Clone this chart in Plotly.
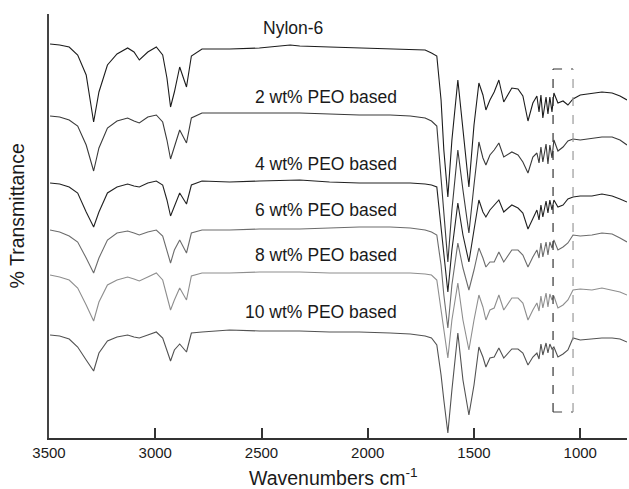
import plotly.graph_objects as go

# Wavenumber grid (cm^-1) of the key points
wavenumber = [3495, 3450, 3405, 3365, 3325, 3290, 3265, 3225, 3180, 3130,
              3100, 3075, 3035, 2995, 2965, 2945, 2928, 2910, 2885, 2853,
              2830, 2780, 2650, 2510, 2365, 2320, 2180, 2040, 1895, 1800,
              1730, 1700, 1675, 1655, 1642, 1623, 1604, 1576, 1552, 1524,
              1500, 1477, 1458, 1444, 1425, 1405, 1383, 1360, 1322, 1293,
              1270, 1246, 1223, 1204, 1194, 1185, 1176, 1161, 1152, 1143,
              1133, 1124, 1105, 1081, 1058, 1034, 1000, 945, 898, 850,
              813, 780]

# Transmittance (arbitrary units, spectra offset vertically)
nylon6 = [396, 395, 393, 385, 365, 318, 348, 375, 386, 392, 388, 380, 388, 393, 385, 362, 333, 348, 373, 353,
          384, 391, 391, 392, 395, 394, 393, 392, 391, 390, 390, 387, 384, 340, 290, 243, 300, 360, 310, 253,
          315, 357, 345, 330, 340, 348, 360, 338, 352, 351, 344, 319, 337, 344, 328, 345, 322, 343, 326, 343,
          328, 347, 337, 339, 335, 341, 345, 347, 348, 347, 344, 340]
peo2 = [324, 323, 320, 314, 295, 269, 292, 312, 319, 322, 319, 317, 323, 325, 318, 300, 281, 293, 310, 297,
        322, 327, 327, 327, 327, 327, 326, 325, 325, 324, 322, 319, 314, 265, 230, 178, 230, 290, 250, 207,
        255, 298, 282, 275, 285, 290, 297, 283, 288, 285, 278, 267, 283, 287, 277, 293, 278, 296, 276, 295,
        282, 300, 289, 293, 299, 301, 300, 302, 303, 303, 300, 295]
peo4 = [257, 256, 253, 247, 228, 213, 228, 247, 253, 256, 254, 253, 257, 259, 255, 240, 224, 233, 247, 236,
        255, 259, 258, 259, 260, 260, 258, 257, 257, 257, 256, 255, 253, 215, 185, 148, 190, 237, 205, 178,
        210, 240, 228, 223, 230, 235, 240, 228, 235, 232, 227, 211, 222, 230, 220, 235, 223, 239, 227, 240,
        230, 240, 233, 235, 241, 243, 244, 244, 246, 244, 241, 238]
peo6 = [210, 208, 204, 198, 182, 167, 182, 200, 207, 209, 207, 205, 208, 210, 204, 190, 177, 190, 200, 187,
        207, 210, 210, 211, 211, 211, 212, 213, 213, 212, 210, 208, 205, 175, 145, 112, 155, 197, 172, 150,
        170, 192, 182, 173, 178, 178, 188, 178, 190, 190, 185, 173, 183, 190, 182, 197, 183, 198, 185, 198,
        192, 200, 190, 193, 197, 205, 204, 205, 207, 206, 202, 198]
peo8 = [165, 163, 160, 152, 135, 119, 138, 155, 160, 163, 161, 159, 163, 167, 160, 145, 130, 140, 152, 140,
        164, 167, 167, 168, 168, 168, 167, 167, 167, 167, 166, 165, 160, 130, 110, 82, 120, 157, 120, 90,
        120, 145, 133, 120, 130, 132, 145, 130, 142, 142, 137, 120, 130, 137, 129, 144, 132, 147, 133, 146,
        140, 144, 132, 135, 140, 150, 151, 150, 152, 150, 148, 145]
peo10 = [105, 104, 101, 93, 80, 69, 87, 99, 103, 105, 103, 102, 105, 108, 102, 90, 79, 90, 96, 88,
         107, 108, 110, 109, 109, 109, 108, 108, 107, 106, 104, 102, 95, 65, 40, 7, 50, 107, 60, 25,
         55, 93, 83, 73, 82, 83, 92, 82, 91, 91, 87, 75, 83, 87, 81, 96, 85, 97, 87, 96,
         91, 93, 83, 86, 90, 102, 100, 101, 102, 102, 101, 98]

series = [nylon6, peo2, peo4, peo6, peo8, peo10]
series_names = ["Nylon-6", "2 wt% PEO based", "4 wt% PEO based",
                "6 wt% PEO based", "8 wt% PEO based", "10 wt% PEO based"]
series_colors = ["#1c1c1c", "#3a3a3a", "#222222", "#6c6c6c", "#8e8e8e", "#525252"]

# Label anchor positions (data units)
label_x = [2353, 1854, 1854, 1854, 1854, 1854]
label_y = [412, 343, 276, 230, 185, 128]
label_anchor = ["center", "right", "right", "right", "right", "right"]

# Highlighted band (dashed box)
band_x = [1128, 1034]
band_y = [28, 371]

x_ticks = [3500, 3000, 2500, 2000, 1500, 1000]
x_range = [3500, 780]
y_range = [2, 426]

FONT = "Liberation Sans, Arial, Helvetica, sans-serif"

fig = go.Figure()
for vals, name, col in zip(series, series_names, series_colors):
    fig.add_trace(go.Scatter(x=wavenumber, y=vals, mode="lines", name=name,
                             line=dict(color=col, width=1.1), showlegend=False,
                             hoverinfo="skip"))

for txt, lx, ly, anc in zip(series_names, label_x, label_y, label_anchor):
    fig.add_annotation(x=lx, y=ly, xref="x", yref="y", text=txt, showarrow=False,
                       xanchor=anc, yanchor="middle",
                       font=dict(family=FONT, size=17.5, color="#1a1a1a"))

# dashed highlight box
fig.add_shape(type="line", x0=band_x[0], x1=band_x[1], y0=band_y[1], y1=band_y[1],
              xref="x", yref="y", line=dict(color="#333333", width=1.2, dash="dash"))
fig.add_shape(type="line", x0=band_x[0], x1=band_x[1], y0=band_y[0], y1=band_y[0],
              xref="x", yref="y", line=dict(color="#444444", width=1.2, dash="dash"))
fig.add_shape(type="line", x0=band_x[0], x1=band_x[0], y0=band_y[0], y1=band_y[1],
              xref="x", yref="y", line=dict(color="#333333", width=1.2, dash="dash"))
fig.add_shape(type="line", x0=band_x[1], x1=band_x[1], y0=band_y[0], y1=band_y[1],
              xref="x", yref="y", line=dict(color="#9a9a9a", width=1.2, dash="dash"))

# axis titles
fig.add_annotation(x=0.493, y=-0.093, xref="paper", yref="paper",
                   text="Wavenumbers cm<sup>-1</sup>", showarrow=False,
                   xanchor="center", yanchor="middle",
                   font=dict(family=FONT, size=19.5, color="#1a1a1a"))
fig.add_annotation(x=-0.056, y=0.524, xref="paper", yref="paper",
                   text="% Transmittance", showarrow=False, textangle=-90,
                   xanchor="center", yanchor="middle",
                   font=dict(family=FONT, size=19.5, color="#1a1a1a"))

fig.update_layout(
    width=629, height=489,
    margin=dict(l=49, r=2, t=14, b=51),
    paper_bgcolor="white", plot_bgcolor="white",
    font=dict(family=FONT, color="#1a1a1a"),
    xaxis=dict(range=x_range, tickvals=x_ticks, ticks="inside", ticklen=10,
               tickwidth=2, tickcolor="#333333", showline=True, linewidth=2,
               linecolor="#333333", showgrid=False, zeroline=False,
               tickfont=dict(family=FONT, size=15, color="#1a1a1a")),
    yaxis=dict(range=y_range, showline=True, linewidth=2, linecolor="#444444",
               showticklabels=False, ticks="", showgrid=False, zeroline=False),
)

fig.write_html("out.html", config={"displayModeBar": False})
